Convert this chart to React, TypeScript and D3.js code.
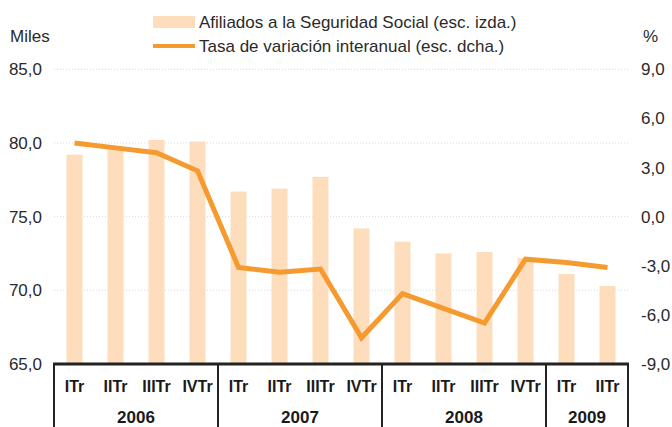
import React from "react";
import * as d3 from "d3";

const quarters = ["ITr", "IITr", "IIITr", "IVTr", "ITr", "IITr", "IIITr", "IVTr", "ITr", "IITr", "IIITr", "IVTr", "ITr", "IITr"];
const years = ["2006", "2007", "2008", "2009"];
const yearQuarterCounts = [4, 4, 4, 2];
const afiliados = [79.2, 79.7, 80.2, 80.1, 76.7, 76.9, 77.7, 74.2, 73.3, 72.5, 72.6, 72.2, 71.1, 70.3];
const tasa = [4.5, 4.2, 3.9, 2.8, -3.1, -3.4, -3.2, -7.4, -4.7, -5.6, -6.5, -2.6, -2.8, -3.1];
const leftTicks = [65, 70, 75, 80, 85];
const rightTicks = [-9, -6, -3, 0, 3, 6, 9];

const W = 672;
const H = 427;
const X0 = 54;
const X1 = 628;
const YT = 69.3;
const YB = 364;
const FONT = "'Liberation Sans', Arial, Helvetica, sans-serif";
const TXT = "#2a2a2a";
const BAR = "#FDDDBB";
const LINE = "#F59A2E";

const fmt = (v: number) => v.toFixed(1).replace(".", ",");

export default function App() {
  const idx = quarters.map((_, i) => String(i));
  const x = d3.scaleBand<string>().domain(idx).range([X0, X1]).paddingInner(0.61).paddingOuter(0.305);
  const xc = (i: number) => (x(String(i)) as number) + x.bandwidth() / 2;
  const yL = d3.scaleLinear().domain([65, 85]).range([YB, YT]);
  const yR = d3.scaleLinear().domain([-9, 9]).range([YB, YT]);
  const step = (X1 - X0) / quarters.length;
  const line = d3
    .line<number>()
    .x((_, i) => xc(i))
    .y((d) => yR(d));

  let acc = 0;
  const yearBounds = yearQuarterCounts.map((c) => {
    const s = acc;
    acc += c;
    return [s, acc];
  });

  return (
    <svg width={W} height={H} style={{ position: "absolute", left: 0, top: 0, background: "#fff" }} fontFamily={FONT}>
      <rect x={0} y={0} width={W} height={H} fill="#fff" />
      {/* gridlines */}
      {leftTicks.filter((t) => t > 65).map((t) => (
        <line key={t} x1={X0} x2={X1} y1={yL(t)} y2={yL(t)} stroke="#d9d9d9" strokeWidth={1} strokeDasharray="1,2" />
      ))}
      {/* bars */}
      {afiliados.map((v, i) => (
        <rect key={i} x={x(String(i))} y={yL(v)} width={x.bandwidth()} height={YB - yL(v)} fill={BAR} />
      ))}
      {/* line */}
      <path d={line(tasa) as string} fill="none" stroke={LINE} strokeWidth={5} strokeLinejoin="miter" />
      {/* left axis labels */}
      {leftTicks.map((t) => (
        <text key={t} x={42} y={yL(t) + 6} textAnchor="end" fontSize={17} fill={TXT}>
          {fmt(t)}
        </text>
      ))}
      {/* right axis labels */}
      {rightTicks.map((t) => (
        <text key={t} x={641} y={yR(t) + 6} textAnchor="start" fontSize={17} fill={TXT}>
          {fmt(t)}
        </text>
      ))}
      <text x={10} y={42} fontSize={17} fill={TXT}>Miles</text>
      <text x={643} y={42} fontSize={17} fill={TXT}>%</text>
      {/* legend */}
      <rect x={153} y={16} width={42} height={12} fill={BAR} />
      <text x={199} y={28} fontSize={17} fill={TXT}>Afiliados a la Seguridad Social (esc. izda.)</text>
      <line x1={153} x2={195} y1={46} y2={46} stroke={LINE} strokeWidth={4} />
      <text x={199} y={52} fontSize={17} fill={TXT}>Tasa de variación interanual (esc. dcha.)</text>
      {/* bottom category box */}
      <line x1={X0 - 1} x2={X1 + 1} y1={YB} y2={YB} stroke="#222" strokeWidth={3} />
      {[0, ...yearBounds.map((b) => b[1])].map((k, i) => (
        <line key={i} x1={X0 + k * step} x2={X0 + k * step} y1={YB} y2={H} stroke="#222" strokeWidth={2} />
      ))}
      {quarters.map((q, i) => (
        <text key={i} x={xc(i)} y={392} textAnchor="middle" fontSize={16} fontWeight="bold" fill="#1a1a1a">
          {q}
        </text>
      ))}
      {years.map((yr, i) => (
        <text
          key={yr}
          x={X0 + ((yearBounds[i][0] + yearBounds[i][1]) / 2) * step}
          y={423}
          textAnchor="middle"
          fontSize={17}
          fontWeight="bold"
          fill="#1a1a1a"
        >
          {yr}
        </text>
      ))}
    </svg>
  );
}
